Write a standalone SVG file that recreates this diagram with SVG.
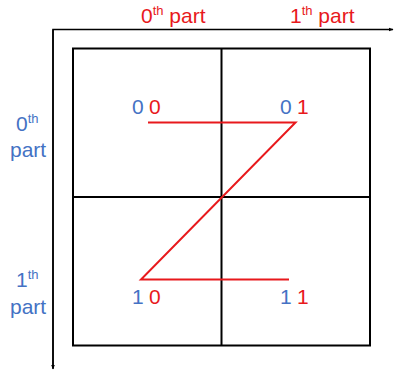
<svg xmlns="http://www.w3.org/2000/svg" width="395" height="371" viewBox="0 0 395 371">
<style>
text{font-family:"Liberation Sans",Arial,sans-serif;font-size:21px}
.r{fill:#e8191c}
.b{fill:#4472c4}
.sup{font-size:13px}
.box{fill:none;stroke:#000;stroke-width:2}
.axis{fill:none;stroke:#000;stroke-width:1.5}
.z{fill:none;stroke:#e8191c;stroke-width:2;stroke-linejoin:miter}
</style>
<defs>
<marker id="ah" viewBox="0 0 10 10" refX="9" refY="5" markerWidth="5" markerHeight="5" orient="auto" markerUnits="userSpaceOnUse">
<path d="M0,1 L10,5 L0,9 Z" fill="#000"/>
</marker>
</defs>
<g id="axes">
<path class="axis" d="M53,368 L53,29.5 L393,29.5" marker-end="url(#ah)"/>
<path class="axis" d="M53,29.5 L53,369" marker-end="url(#ah)"/>
</g>
<g id="grid">
<rect class="box" x="73" y="48.5" width="297" height="297"/>
<line class="box" x1="221.5" y1="48.5" x2="221.5" y2="345.5"/>
<line class="box" x1="73" y1="197" x2="370" y2="197"/>
</g>
<g id="connectors">
<path class="z" d="M148,122.5 L295.5,122.5 L141,279.5 L289,279.5"/>
</g>
<g id="col-labels">
<text x="141" y="23" class="r">0<tspan class="sup" dy="-8">th</tspan><tspan dy="8"> part</tspan></text>
<text x="290" y="23" class="r">1<tspan class="sup" dy="-8">th</tspan><tspan dy="8"> part</tspan></text>
</g>
<g id="row-labels">
<text x="16" y="131" class="b">0<tspan class="sup" dy="-8">th</tspan></text>
<text x="10" y="157" class="b">part</text>
<text x="16" y="287" class="b">1<tspan class="sup" dy="-8">th</tspan></text>
<text x="10" y="314" class="b">part</text>
</g>
<g id="cell-00"><text x="132" y="114"><tspan class="b">0</tspan><tspan class="r" x="149">0</tspan></text></g>
<g id="cell-01"><text x="280" y="114"><tspan class="b">0</tspan><tspan class="r" x="297">1</tspan></text></g>
<g id="cell-10"><text x="132" y="304"><tspan class="b">1</tspan><tspan class="r" x="149">0</tspan></text></g>
<g id="cell-11"><text x="280" y="304"><tspan class="b">1</tspan><tspan class="r" x="297">1</tspan></text></g>
</svg>
